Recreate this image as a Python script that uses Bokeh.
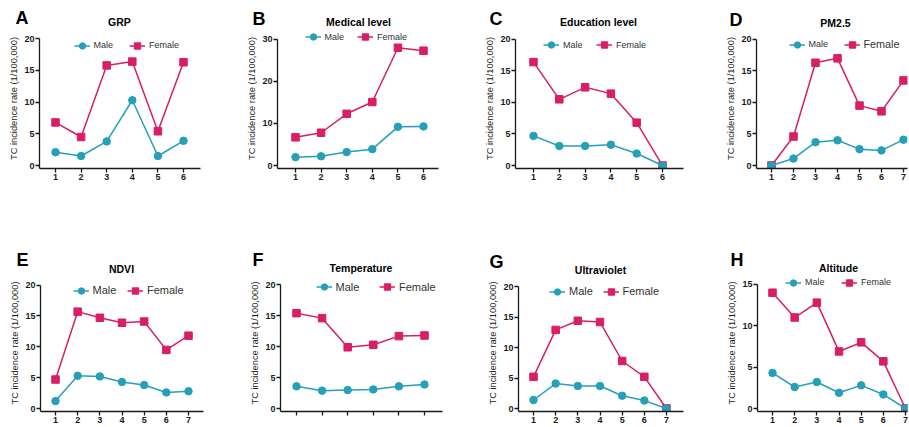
from bokeh.plotting import figure
from bokeh.layouts import row, column
from bokeh.models import Legend, LegendItem, Label, FixedTicker, ColumnDataSource
from bokeh.embed import file_html
from bokeh.resources import INLINE

# ---------------- data ----------------
x6 = [1, 2, 3, 4, 5, 6]
x7 = [1, 2, 3, 4, 5, 6, 7]
yticks_20 = [0, 5, 10, 15, 20]
yticks_30 = [0, 10, 20, 30]
yticks_15 = [0, 5, 10, 15]

grp_male = [2.1, 1.5, 3.8, 10.3, 1.5, 3.9]
grp_female = [6.8, 4.5, 15.8, 16.4, 5.4, 16.3]
med_male = [2.0, 2.2, 3.2, 3.9, 9.2, 9.3]
med_female = [6.7, 7.8, 12.3, 15.1, 28.0, 27.3]
edu_male = [4.7, 3.1, 3.1, 3.3, 1.9, 0.0]
edu_female = [16.4, 10.5, 12.4, 11.4, 6.8, 0.0]
pm_male = [0.0, 1.1, 3.7, 4.0, 2.6, 2.4, 4.1]
pm_female = [0.0, 4.6, 16.3, 17.0, 9.5, 8.6, 13.5]
ndvi_male = [1.2, 5.3, 5.2, 4.3, 3.8, 2.6, 2.8]
ndvi_female = [4.7, 15.7, 14.7, 13.9, 14.1, 9.5, 11.8]
temp_male = [3.6, 2.9, 3.0, 3.1, 3.6, 3.9]
temp_female = [15.4, 14.6, 9.9, 10.3, 11.7, 11.8]
uv_male = [1.4, 4.1, 3.7, 3.7, 2.1, 1.3, 0.0]
uv_female = [5.2, 12.9, 14.4, 14.2, 7.8, 5.2, 0.0]
alt_male = [4.3, 2.6, 3.2, 1.9, 2.8, 1.7, 0.0]
alt_female = [14.0, 11.0, 12.8, 6.9, 8.0, 5.7, 0.0]

y_label = "TC incidence rate (1/100,000)"

# ---------------- style / layout ----------------
MALE = "#25a0b8"
FEMALE = "#d81e66"
AX = "#1a1a1a"
FONT = "Liberation Sans"

COL_X0 = [0, 233, 458, 688]
COL_W = [233, 225, 230, 221]
ROW_TOP = [0, 240]
HEAD_H = [28, 34]
CHART_TOP = [28, 274]
CHART_H = [212, 153]
KY = [1.0, 0.965]
PAD = 3
GW, GH = 16, 17


def fx(c, x):
    return x - COL_X0[c]


def fyc(r, y):
    return (y - CHART_TOP[r]) * KY[r]


panels = [
    dict(r=0, c=0, letter="A", title="GRP", x=x6, male=grp_male, female=grp_female, ymax=20, yticks=yticks_20,
         ax=39, aend=200, x1=55, xn=183, ytop=38.3, y0=165.3, lpos=(15, 17), tpos=(119, 21),
         ly=45, lm=81.5, lf=137, fm=9, ff=9, xlab=True),
    dict(r=0, c=1, letter="B", title="Medical level", x=x6, male=med_male, female=med_female, ymax=30, yticks=yticks_30,
         ax=277, aend=438, x1=295, xn=423, ytop=39, y0=166.7, lpos=(252, 18), tpos=(358, 21),
         ly=38.7, lm=312.5, lf=365, fm=9, ff=9, xlab=True),
    dict(r=0, c=2, letter="C", title="Education level", x=x6, male=edu_male, female=edu_female, ymax=20, yticks=yticks_20,
         ax=515, aend=683, x1=533, xn=662, ytop=39, y0=166.3, lpos=(489, 18.5), tpos=(598, 21.5),
         ly=45.7, lm=551, lf=604, fm=9, ff=9, xlab=True),
    dict(r=0, c=3, letter="D", title="PM2.5", x=x7, male=pm_male, female=pm_female, ymax=20, yticks=yticks_20,
         ax=756, aend=907, x1=771, xn=903, ytop=39, y0=166.3, lpos=(729, 19), tpos=(835, 22),
         ly=45, lm=796.5, lf=851.5, fm=9, ff=10.8, xlab=True),
    dict(r=1, c=0, letter="E", title="NDVI", x=x7, male=ndvi_male, female=ndvi_female, ymax=20, yticks=yticks_20,
         ax=40, aend=203, x1=55, xn=188, ytop=285, y0=413, lpos=(16, 259), tpos=(121, 268),
         ly=291, lm=80.5, lf=135, fm=11, ff=11, xlab=True),
    dict(r=1, c=1, letter="F", title="Temperature", x=x6, male=temp_male, female=temp_female, ymax=20, yticks=yticks_20,
         ax=280, aend=442, x1=296, xn=424, ytop=285, y0=419.3, lpos=(252, 259), tpos=(360.5, 267.5),
         ly=293.3, lm=323.5, lf=387, fm=11, ff=11, xlab=False),
    dict(r=1, c=2, letter="G", title="Ultraviolet", x=x7, male=uv_male, female=uv_female, ymax=20, yticks=yticks_20,
         ax=518, aend=683, x1=533, xn=666, ytop=286.7, y0=414, lpos=(489, 261), tpos=(600, 269),
         ly=292.7, lm=557, lf=610.5, fm=11, ff=11, xlab=True),
    dict(r=1, c=3, letter="H", title="Altitude", x=x7, male=alt_male, female=alt_female, ymax=15, yticks=yticks_15,
         ax=757, aend=907, x1=772, xn=905, ytop=284.3, y0=412.7, lpos=(730, 259.5), tpos=(838, 267),
         ly=282.7, lm=793, lf=849, fm=9, ff=9, xlab=True),
]


def make_header(sp):
    r, c = sp["r"], sp["c"]
    W, H = COL_W[c], HEAD_H[r]
    h = figure(width=W, height=H, x_range=(0, W), y_range=(H, 0),
               x_axis_location=None, y_axis_location=None,
               output_backend="svg", toolbar_location=None,
               min_border_left=0, min_border_right=0, min_border_top=0, min_border_bottom=0)
    h.outline_line_color = None
    h.grid.visible = False
    lx, lyy = sp["lpos"]
    h.add_layout(Label(x=fx(c, lx), y=lyy - ROW_TOP[r], text=sp["letter"], text_font=FONT,
                       text_font_size="18px", text_font_style="bold", text_baseline="middle",
                       text_align="left", text_color="black"))
    tx, tyy = sp["tpos"]
    h.add_layout(Label(x=fx(c, tx), y=tyy - ROW_TOP[r], text=sp["title"], text_font=FONT,
                       text_font_size="10.5px", text_font_style="bold", text_baseline="middle",
                       text_align="center", text_color="black"))
    return h


def make_chart(sp):
    r, c = sp["r"], sp["c"]
    W, H = COL_W[c], CHART_H[r]
    fl = round(fx(c, sp["ax"]))
    fr = round(fx(c, sp["aend"]))
    ftop = fyc(r, sp["ytop"])
    fb = round(fyc(r, sp["y0"]) + PAD)
    n = len(sp["x"])
    dxp = (sp["xn"] - sp["x1"]) / (n - 1)
    xs = 1 - (sp["x1"] - sp["ax"]) / dxp
    xe = n + (sp["aend"] - sp["xn"]) / dxp
    ymax = sp["ymax"]
    s = (fb - PAD - ftop) / ymax
    ys = -PAD / s
    ye = ymax + ftop / s

    p = figure(width=W, height=H, x_range=(xs, xe), y_range=(ys, ye),
               output_backend="svg", toolbar_location=None,
               min_border_left=fl, min_border_right=W - fr,
               min_border_top=0, min_border_bottom=H - fb)
    p.xgrid.visible = False
    p.ygrid.visible = False
    p.outline_line_color = None
    p.background_fill_color = "white"
    p.border_fill_color = "white"

    for axis in (p.xaxis[0], p.yaxis[0]):
        axis.axis_line_color = AX
        axis.axis_line_width = 1.3
        axis.major_tick_line_color = AX
        axis.major_tick_line_width = 1.3
        axis.major_tick_out = 4
        axis.major_tick_in = 0
        axis.minor_tick_line_color = None
        axis.major_label_text_font = FONT
        axis.major_label_text_font_size = "9px"
        axis.major_label_text_font_style = "bold"
        axis.major_label_text_color = AX
        axis.major_label_standoff = 1

    p.yaxis.ticker = FixedTicker(ticks=sp["yticks"])
    p.yaxis.bounds = (ys, ymax)
    p.yaxis.axis_label = y_label
    p.yaxis.axis_label_text_font = FONT
    p.yaxis.axis_label_text_font_size = "9.3px"
    p.yaxis.axis_label_text_font_style = "normal"
    p.yaxis.axis_label_text_color = AX
    p.yaxis.axis_label_standoff = 2

    p.xaxis.ticker = FixedTicker(ticks=sp["x"])
    if not sp["xlab"]:
        p.xaxis.major_label_overrides = {v: "" for v in sp["x"]}

    src = ColumnDataSource(dict(x=sp["x"], male=sp["male"], female=sp["female"]))
    lf_ = p.line("x", "female", source=src, line_color=FEMALE, line_width=1.5)
    sf_ = p.scatter("x", "female", source=src, marker="square", size=7.5,
                    fill_color=FEMALE, line_color=FEMALE)
    lm_ = p.line("x", "male", source=src, line_color=MALE, line_width=1.5)
    sm_ = p.scatter("x", "male", source=src, marker="circle", size=7.5,
                    fill_color=MALE, line_color=MALE)

    for name, rends, cx, fs in (("Male", [lm_, sm_], sp["lm"], sp["fm"]),
                                ("Female", [lf_, sf_], sp["lf"], sp["ff"])):
        gx = fx(c, cx) - GW / 2 - fl
        gy = fb - fyc(r, sp["ly"]) - GH / 2
        leg = Legend(items=[LegendItem(label=name, renderers=rends)],
                     location=(gx, gy), orientation="horizontal",
                     glyph_width=GW, glyph_height=GH, label_height=GH, label_width=10,
                     label_standoff=4, padding=0, margin=0, spacing=0,
                     border_line_color=None, background_fill_alpha=0,
                     label_text_font=FONT, label_text_font_size=f"{fs}px",
                     label_text_color="#333333")
        p.add_layout(leg, "center")
    return p


heads = [make_header(sp) for sp in panels]
charts = [make_chart(sp) for sp in panels]
layout = column(row(*heads[:4]), row(*charts[:4]), row(*heads[4:]), row(*charts[4:]))

open("out.html", "w").write(file_html(layout, INLINE, "TC incidence"))
